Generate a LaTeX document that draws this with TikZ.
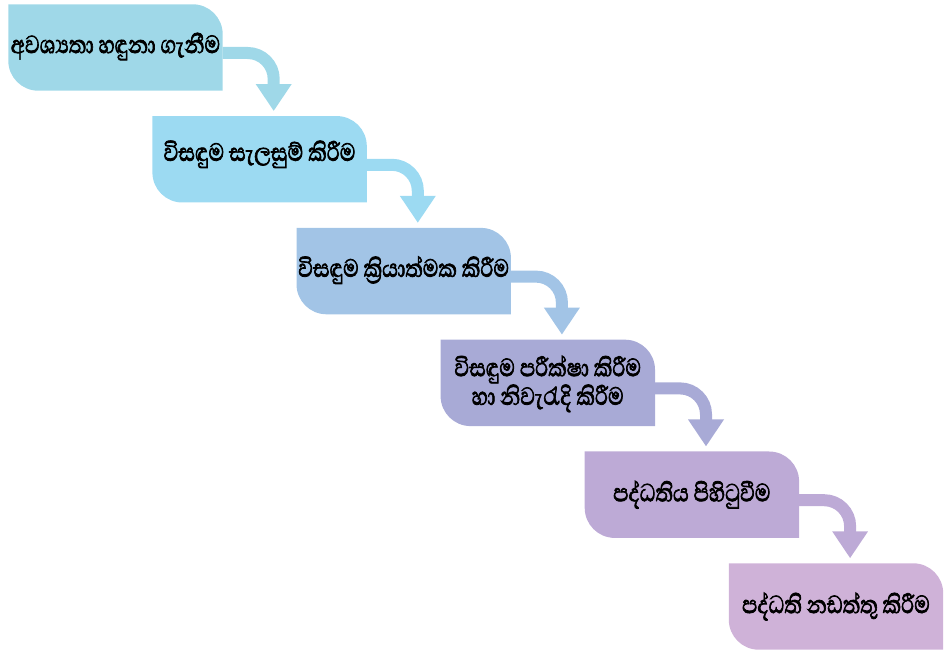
\documentclass[tikz,border=0pt]{standalone}
\usepackage{fontspec}
\newfontfamily\sinhala[Script=Sinhala,FakeBold=2.5]{Abhaya Libre}
\usetikzlibrary{arrows.meta}
\definecolor{cA}{HTML}{9FD8E8}
\definecolor{cB}{HTML}{9CDAF2}
\definecolor{cC}{HTML}{A2C4E6}
\definecolor{cD}{HTML}{A8AAD6}
\definecolor{cE}{HTML}{BDAAD6}
\definecolor{cF}{HTML}{CFB2D8}
\tikzset{
  stepbox/.style={rectangle, minimum width=214pt, minimum height=86pt, inner sep=0pt},
  steptext/.style={align=center, inner sep=0pt, transform shape, yscale=1.22,
    font=\sinhala\fontsize{26}{21}\selectfont},
  flowarrow/.style={line width=12pt, -{Triangle[width=34pt,length=27pt]}}
}
\newcommand\boxfill[2]{%
  \fill[#2] (#1.north west) -- ([xshift=-30pt]#1.north east)
    arc[start angle=90,end angle=0,radius=30pt] -- (#1.south east)
    -- ([xshift=30pt]#1.south west)
    arc[start angle=270,end angle=180,radius=30pt] -- cycle;}
\newcommand\flow[3]{%
  \coordinate (#1t) at ([xshift=51pt,yshift=5pt]#1.east |- #2.north);
  \draw[flowarrow,#3] ([yshift=-5.5pt]#1.east) -- ++(25pt,0)
    arc[start angle=90,end angle=0,radius=26pt] -- (#1t);}
\begin{document}
\begin{tikzpicture}[x=1pt,y=1pt]
\useasboundingbox (0,0) rectangle (944,653);
\node[stepbox] (b1) at (115.5,605.5) {};
\node[stepbox] (b2) at (259.6,493.7) {};
\node[stepbox] (b3) at (403.7,381.9) {};
\node[stepbox] (b4) at (547.8,270.1) {};
\node[stepbox] (b5) at (691.9,158.3) {};
\node[stepbox] (b6) at (836,46.5) {};
\boxfill{b1}{cA}
\boxfill{b2}{cB}
\boxfill{b3}{cC}
\boxfill{b4}{cD}
\boxfill{b5}{cE}
\boxfill{b6}{cF}
\flow{b1}{b2}{cA}
\flow{b2}{b3}{cB}
\flow{b3}{b4}{cC}
\flow{b4}{b5}{cD}
\flow{b5}{b6}{cE}
\node[steptext] (t1) at ([yshift=1pt]b1.center) {අවශ්‍යතා හඳුනා ගැනීම};
\node[steptext] (t2) at ([yshift=5pt]b2.center) {විසඳුම සැලසුම් කිරීම};
\node[steptext] (t3) at ([yshift=1pt]b3.center) {විසඳුම ක්‍රියාත්මක කිරීම};
\node[steptext] (t4) at ([yshift=-1pt]b4.center) {විසඳුම පරීක්ෂා කිරීම\\හා නිවැරැදි කිරීම};
\node[steptext] (t5) at ([yshift=0pt]b5.center) {පද්ධතිය පිහිටුවීම};
\node[steptext] (t6) at ([yshift=0pt]b6.center) {පද්ධති නඩත්තු කිරීම};
\end{tikzpicture}
\end{document}
